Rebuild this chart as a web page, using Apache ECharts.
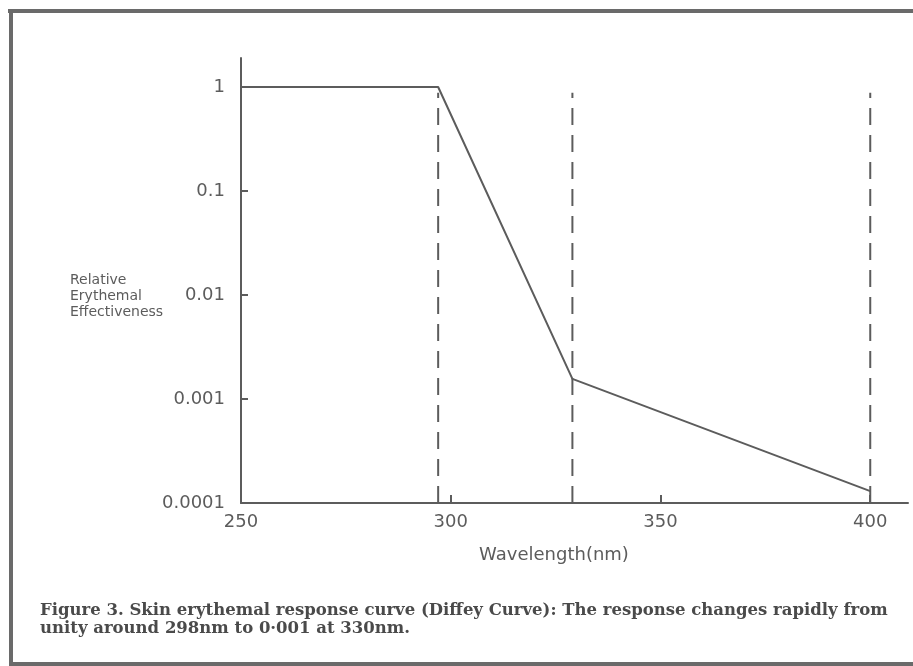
<!DOCTYPE html>
<html>
<head>
<meta charset="utf-8">
<script src="https://cdn.jsdelivr.net/npm/echarts@6/dist/echarts.min.js"></script>
<style>html,body{margin:0;padding:0;background:#fff}#c{width:913px;height:666px}</style>
</head>
<body>
<div id="c"></div>
<script>
// Data
const curveX = [250, 297, 329, 400];
const curveY = [1, 1, 0.00156, 0.00013];
const dashedX = [297, 329, 400];
const dashedTop = 0.88;
const xTicks = [250, 300, 350, 400];
const yTicks = [0.0001, 0.001, 0.01, 0.1, 1];
const yTickLabels = ['0.0001', '0.001', '0.01', '0.1', '1'];
const xName = 'Wavelength(nm)';
const yNameLines = ['Relative', 'Erythemal', 'Effectiveness'];
const captionLines = [
  'Figure 3. Skin erythemal response curve (Diffey Curve): The response changes rapidly from',
  'unity around 298nm to 0·001 at 330nm.'
];

const ink = '#5c5c5c';
const font = 'DejaVu Sans';
const chart = echarts.init(document.getElementById('c'), null, {renderer: 'canvas'});

const series = [{
  type: 'line',
  data: curveX.map((x, i) => [x, curveY[i]]),
  symbol: 'none',
  lineStyle: {color: ink, width: 2},
  z: 3
}];
dashedX.forEach(x => {
  series.push({
    type: 'line',
    data: [[x, yTicks[0]], [x, dashedTop]],
    symbol: 'none',
    lineStyle: {color: ink, width: 2, type: [17, 10]},
    z: 2
  });
});

const graphics = [
  {type: 'rect', shape: {x: 8, y: 9, width: 905, height: 4}, style: {fill: '#6a6a6a'}},
  {type: 'rect', shape: {x: 9, y: 9, width: 4, height: 657}, style: {fill: '#6a6a6a'}},
  {type: 'rect', shape: {x: 9, y: 662, width: 904, height: 4}, style: {fill: '#6a6a6a'}},
  {type: 'text', x: 554, y: 555, style: {text: xName, font: '18px "' + font + '"', fill: ink, textAlign: 'center', textVerticalAlign: 'middle'}}
];
yNameLines.forEach((t, i) => {
  graphics.push({type: 'text', x: 70, y: 280 + i * 16, style: {text: t, font: '14px "' + font + '"', fill: ink, textAlign: 'left', textVerticalAlign: 'middle'}});
});
captionLines.forEach((t, i) => {
  graphics.push({type: 'text', x: 40, y: 611 + i * 18, style: {text: t, font: 'bold 16.5px "DejaVu Serif"', fill: '#4a4a4a', textAlign: 'left', textVerticalAlign: 'middle'}});
});

chart.setOption({
  animation: false,
  backgroundColor: '#fff',
  grid: {left: 241, right: 5, top: 58, bottom: 163, containLabel: false},
  xAxis: {
    type: 'value', min: 250, max: 409,
    axisLine: {lineStyle: {color: ink, width: 2}},
    axisTick: {inside: true, length: 8, lineStyle: {color: ink, width: 2}, customValues: xTicks},
    axisLabel: {customValues: xTicks, color: ink, fontFamily: font, fontSize: 18, margin: 10},
    splitLine: {show: false}
  },
  yAxis: {
    type: 'log', logBase: 10, min: yTicks[0], max: 1.9,
    axisLine: {show: true, lineStyle: {color: ink, width: 2}},
    axisTick: {show: true, inside: true, length: 7, lineStyle: {color: ink, width: 2}, customValues: yTicks},
    axisLabel: {
      customValues: yTicks,
      color: ink, fontFamily: font, fontSize: 18, margin: 16,
      formatter: v => {
        const l = Math.log10(v);
        if (Math.abs(l - Math.round(l)) > 1e-6) return '';
        const idx = yTicks.findIndex(t => Math.abs(Math.log10(t) - l) < 1e-6);
        return idx >= 0 ? yTickLabels[idx] : '';
      }
    },
    splitLine: {show: false}
  },
  series: series,
  graphic: graphics
});
</script>
</body>
</html>
